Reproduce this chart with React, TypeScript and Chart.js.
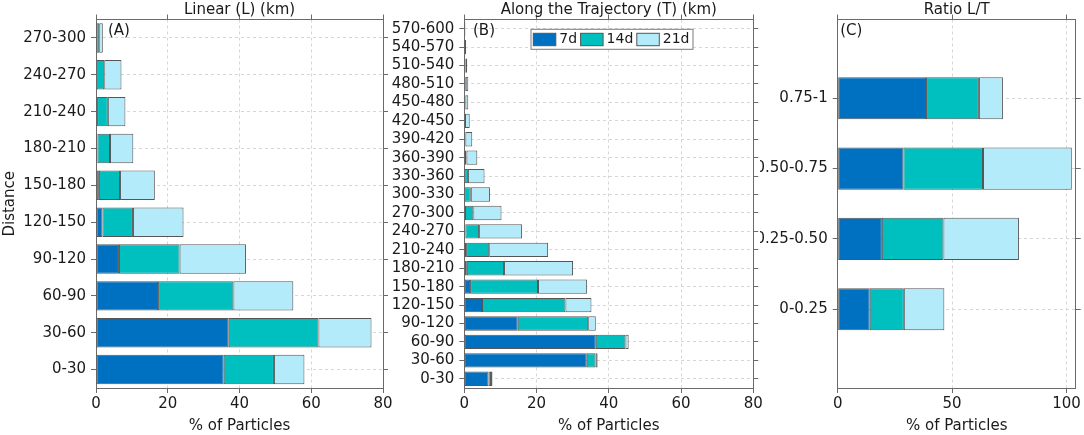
import { useEffect, useRef } from 'react';
import { Chart, registerables } from 'chart.js';

Chart.register(...registerables);

// series order: 7d, 14d, 21d (each value is that day's own % segment, stacked)
const dayLabels = ['7d', '14d', '21d'];
const dayColors = ['#0070c0', '#00bfbf', '#b3ebfb'];

const linearBins = ['0-30', '30-60', '60-90', '90-120', '120-150', '150-180', '180-210', '210-240', '240-270', '270-300'];
const linear7d = [35.6, 37.0, 17.3, 6.4, 1.8, 0.8, 0.4, 0.3, 0.2, 0];
const linear14d = [14.0, 25.0, 21.0, 16.9, 8.5, 5.9, 3.5, 3.0, 2.1, 0.9];
const linear21d = [8.5, 14.8, 16.7, 18.5, 14.1, 9.7, 6.5, 4.9, 4.8, 1.0];

const trajBins = [
  '0-30', '30-60', '60-90', '90-120', '120-150', '150-180', '180-210', '210-240', '240-270', '270-300',
  '300-330', '330-360', '360-390', '390-420', '420-450', '450-480', '480-510', '510-540', '540-570', '570-600',
];
const traj7d = [6.7, 33.9, 36.4, 14.8, 4.9, 1.6, 0.7, 0.5, 0.3, 0.2, 0.1, 0.1, 0, 0, 0, 0, 0, 0, 0, 0];
const traj14d = [0.7, 2.4, 8.2, 19.5, 23.1, 18.8, 10.3, 6.4, 3.8, 2.3, 1.7, 0.9, 0.6, 0.3, 0.2, 0.3, 0.4, 0.3, 0.1, 0.2];
const traj21d = [0.4, 0.6, 0.9, 2.1, 7.2, 13.6, 19.1, 16.3, 11.9, 7.8, 5.3, 4.6, 3.0, 1.9, 1.3, 0.8, 0.7, 0.5, 0.4, 0.1];

const ratioBins = ['0-0.25', '0.25-0.50', '0.50-0.75', '0.75-1'];
const ratio7d = [14.0, 19.3, 28.7, 38.6];
const ratio14d = [14.9, 26.9, 34.8, 23.1];
const ratio21d = [17.7, 33.0, 38.8, 10.5];

const pctTicks = [0, 20, 40, 60, 80];
const ratioTicks = [0, 50, 100];

const FONT = 'DejaVu Sans';
const textColor = '#1a1a1a';
const axisColor = '#6a6a6a';
const gridColor = '#d6d6d6';
const barEdge = '#555555';

type PanelProps = {
  left: number;
  width: number;
  plotLeft: number;
  plotRight: number;
  bins: string[];
  series: number[][];
  xTicks: number[];
  xMax: number;
  yMin: number;
  yMax: number;
  barPct: number;
  title: string;
  tag: string;
  tagDx: number;
  tagDy: number;
  yTitle?: string;
  legend?: boolean;
};

const panelExtras = {
  id: 'panelExtras',
  afterDraw(chart: any, _args: any, opts: any) {
    const { ctx, chartArea } = chart;
    ctx.save();
    ctx.fillStyle = textColor;
    ctx.textBaseline = 'middle';
    ctx.textAlign = 'left';
    ctx.font = `15px "${FONT}"`;
    ctx.fillText(opts.tag, chartArea.left + opts.tagDx, chartArea.top + opts.tagDy);

    if (opts.legend) {
      ctx.font = `14px "${FONT}"`;
      const boxX = chartArea.left + 66.7;
      const boxY = chartArea.top + 9.8;
      const boxH = 20;
      const sw = 22.5;
      const sh = 12.4;
      const gap = 3.5;
      const items = chart.data.datasets.map((d: any) => ({
        label: d.label,
        color: d.backgroundColor,
        w: ctx.measureText(d.label).width,
      }));
      let boxW = 2.3;
      items.forEach((it: any) => { boxW += sw + gap + it.w + gap; });
      ctx.fillStyle = '#ffffff';
      ctx.fillRect(boxX, boxY, boxW, boxH);
      ctx.strokeStyle = '#7a7a7a';
      ctx.lineWidth = 1;
      ctx.strokeRect(boxX, boxY, boxW, boxH);
      let x = boxX + 2.3;
      items.forEach((it: any) => {
        ctx.fillStyle = it.color;
        ctx.fillRect(x, boxY + 4, sw, sh);
        ctx.strokeStyle = barEdge;
        ctx.strokeRect(x, boxY + 4, sw, sh);
        x += sw + gap;
        ctx.fillStyle = textColor;
        ctx.fillText(it.label, x, boxY + boxH / 2 + 0.5);
        x += it.w + gap;
      });
    }
    ctx.restore();
  },
};

const Panel = (p: PanelProps) => {
  const chartRef = useRef<HTMLCanvasElement>(null);

  useEffect(() => {
    let chart: Chart | undefined;
    if (chartRef.current) {
      const font = { family: FONT, size: 15 };
      const xTickSetter = (s: any) => { s.ticks = p.xTicks.map((v) => ({ value: v })); };
      const yTickSetter = (s: any) => { s.ticks = p.bins.map((_, i) => ({ value: i + 1 })); };

      chart = new Chart(chartRef.current, {
        type: 'bar',
        data: {
          datasets: p.series.map((vals, k) => ({
            label: dayLabels[k],
            data: vals.map((v, i) => ({ x: v, y: i + 1 })),
            backgroundColor: dayColors[k],
            borderColor: barEdge,
            borderWidth: 1,
            borderSkipped: false,
            categoryPercentage: 1,
            barPercentage: p.barPct,
          })),
        },
        options: {
          indexAxis: 'y',
          animation: false,
          responsive: true,
          maintainAspectRatio: false,
          events: [],
          layout: { padding: { left: 0, top: 0, bottom: 0, right: p.width - p.plotRight - 6 } },
          plugins: {
            legend: { display: false },
            tooltip: { enabled: false },
            panelExtras: { tag: p.tag, tagDx: p.tagDx, tagDy: p.tagDy, legend: !!p.legend },
          } as any,
          scales: {
            x: {
              type: 'linear',
              position: 'bottom',
              min: 0,
              max: p.xMax,
              bounds: 'data',
              stacked: true,
              afterBuildTicks: xTickSetter,
              ticks: { font, color: textColor, padding: 2, autoSkip: false, maxRotation: 0 },
              grid: { color: gridColor, tickColor: axisColor, tickLength: 5, tickWidth: 1 },
              border: { color: axisColor, dash: [3, 3] },
              title: { display: true, text: '% of Particles', font, color: textColor, padding: { top: 0, bottom: 0 } },
              afterFit: (s: any) => { s.height = 47; },
            },
            xTop: {
              type: 'linear',
              position: 'top',
              min: 0,
              max: p.xMax,
              bounds: 'data',
              afterBuildTicks: xTickSetter,
              ticks: { display: false },
              grid: { drawOnChartArea: false, tickColor: axisColor, tickLength: 5, tickWidth: 1 },
              border: { color: axisColor },
              title: { display: true, text: p.title, font, color: textColor, padding: { top: 1, bottom: 0 } },
              afterFit: (s: any) => { s.height = 19.5; },
            },
            y: {
              type: 'linear',
              position: 'left',
              min: p.yMin,
              max: p.yMax,
              bounds: 'data',
              offset: false,
              stacked: true,
              afterBuildTicks: yTickSetter,
              ticks: {
                font,
                color: textColor,
                padding: 5,
                autoSkip: false,
                callback: (v: any) => p.bins[Math.round(Number(v)) - 1] ?? '',
              },
              grid: { offset: false, color: gridColor, tickColor: axisColor, tickLength: 5, tickWidth: 1 },
              border: { color: axisColor, dash: [3, 3] },
              title: {
                display: !!p.yTitle,
                text: p.yTitle ?? '',
                font,
                color: textColor,
                padding: { top: 1, bottom: 0 },
              },
              afterFit: (s: any) => { s.width = p.plotLeft; },
            },
            yRight: {
              type: 'linear',
              position: 'right',
              min: p.yMin,
              max: p.yMax,
              bounds: 'data',
              offset: false,
              afterBuildTicks: yTickSetter,
              ticks: { display: false },
              grid: { offset: false, drawOnChartArea: false, tickColor: axisColor, tickLength: 5, tickWidth: 1 },
              border: { color: axisColor },
              afterFit: (s: any) => { s.width = 6; },
            },
          } as any,
        },
        plugins: [panelExtras as any],
      });
    }
    return () => {
      chart?.destroy();
    };
  }, []);

  return (
    <div style={{ position: 'absolute', left: p.left, top: 0, width: p.width, height: 435 }}>
      <canvas ref={chartRef}></canvas>
    </div>
  );
};

const App = () => {
  return (
    <div style={{ position: 'absolute', left: 0, top: 0, width: 1084, height: 435, background: '#fff', overflow: 'hidden' }}>
      <Panel
        left={0}
        width={440}
        plotLeft={96}
        plotRight={383}
        bins={linearBins}
        series={[linear7d, linear14d, linear21d]}
        xTicks={pctTicks}
        xMax={80}
        yMin={0.5}
        yMax={10.5}
        barPct={0.8}
        title="Linear (L) (km)"
        tag="(A)"
        tagDx={12}
        tagDy={12}
        yTitle="Distance"
      />
      <Panel
        left={380}
        width={400}
        plotLeft={84.3}
        plotRight={373.3}
        bins={trajBins}
        series={[traj7d, traj14d, traj21d]}
        xTicks={pctTicks}
        xMax={80}
        yMin={0.5}
        yMax={20.5}
        barPct={0.78}
        title="Along the Trajectory (T) (km)"
        tag="(B)"
        tagDx={8.7}
        tagDy={11.5}
        legend
      />
      <Panel
        left={760}
        width={324}
        plotLeft={77.7}
        plotRight={315.7}
        bins={ratioBins}
        series={[ratio7d, ratio14d, ratio21d]}
        xTicks={ratioTicks}
        xMax={104}
        yMin={-0.12}
        yMax={5.12}
        barPct={0.6}
        title="Ratio L/T"
        tag="(C)"
        tagDx={2.5}
        tagDy={11.5}
      />
    </div>
  );
};

export default App;
